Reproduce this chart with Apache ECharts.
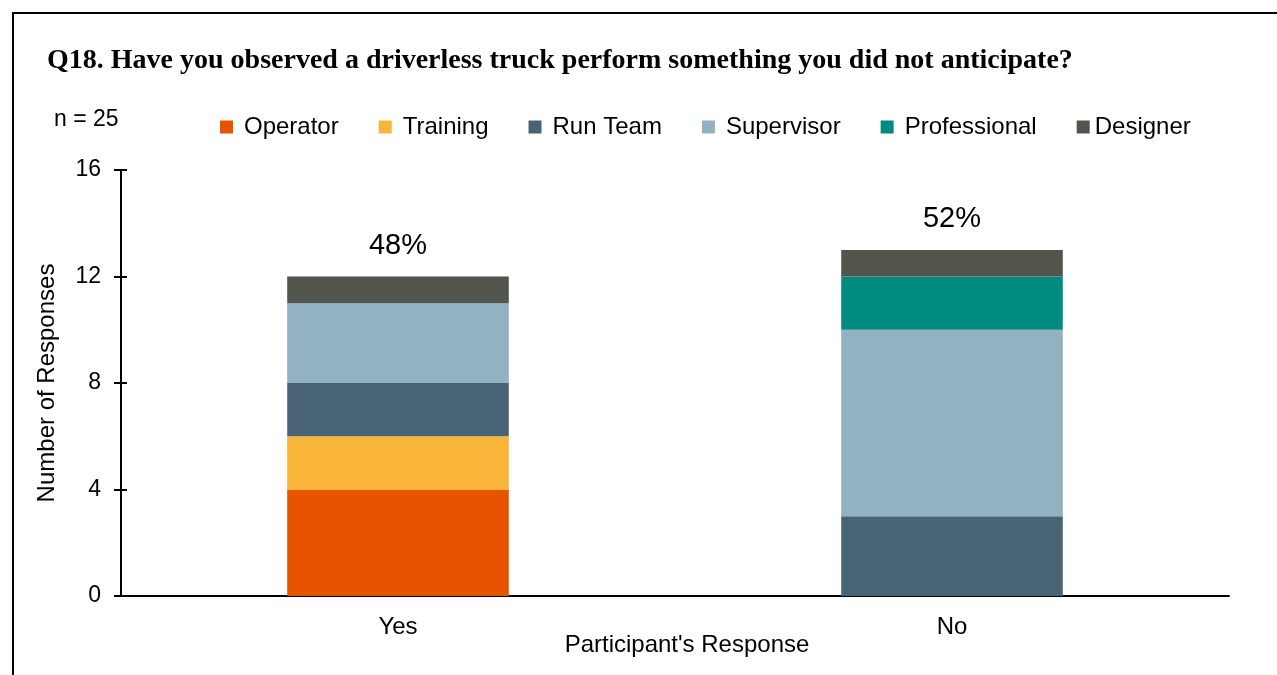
<!DOCTYPE html>
<html>
<head>
<meta charset="utf-8">
<script src="https://cdn.jsdelivr.net/npm/echarts@6/dist/echarts.min.js"></script>
<style>
  html, body { margin: 0; padding: 0; background: #fff; }
  #frame {
    position: absolute; left: 12px; top: 12px; right: -5px; bottom: -5px;
    border-left: 2px solid #000; border-top: 2px solid #000;
  }
  #chart { position: absolute; left: 0; top: 0; width: 1277px; height: 675px; }
</style>
</head>
<body>
<div id="frame"></div>
<div id="chart"></div>
<script>
const categories = ['Yes', 'No']
const operator = [4, 0]
const training = [2, 0]
const runTeam = [2, 3]
const supervisor = [3, 7]
const professional = [0, 2]
const designer = [1, 1]
const percentLabels = ['48%', '52%']
const yTicks = [0, 4, 8, 12, 16]

const chart = echarts.init(document.getElementById('chart'))

const font = 'Liberation Sans, Arial, sans-serif'

function bar(name, data, color, extra) {
  return Object.assign({
    name,
    type: 'bar',
    stack: 'total',
    data,
    barWidth: '40%',
    itemStyle: { color },
    emphasis: { disabled: true },
  }, extra || {})
}

const yMin = yTicks[0]
const yMax = yTicks[yTicks.length - 1]
const yStep = yTicks[1] - yTicks[0]

const option = {
  animation: false,
  textStyle: { fontFamily: font, color: '#000' },
  title: [
    {
      text: 'Q18. Have you observed a driverless truck perform something you did not anticipate?',
      left: 42,
      top: 42,
      textStyle: {
        fontFamily: 'Liberation Serif, Times New Roman, serif',
        fontWeight: 'bold',
        fontSize: 28,
        color: '#000',
      },
    },
    {
      text: 'n = 25',
      left: 49,
      top: 103,
      textStyle: { fontFamily: font, fontWeight: 'normal', fontSize: 23, color: '#000' },
    },
  ],
  legend: {
    top: 110,
    left: 215,
    itemWidth: 13,
    itemHeight: 13,
    itemGap: 40,
    icon: 'rect',
    textStyle: { fontFamily: font, fontSize: 24, color: '#000', padding: [0, 0, 0, 6] },
    data: [
      'Operator', 'Training', 'Run Team', 'Supervisor', 'Professional',
      { name: 'Designer', textStyle: { padding: [0, 0, 0, 0] } },
    ],
  },
  grid: { left: 121, right: 48, top: 170, bottom: 79 },
  xAxis: {
    type: 'category',
    data: categories,
    name: "Participant's Response",
    nameLocation: 'middle',
    nameGap: 37,
    nameMoveOverlap: false,
    nameTextStyle: { fontSize: 24, color: '#000', fontFamily: font, padding: [0, 0, 0, 24] },
    axisLine: { lineStyle: { color: '#000', width: 2 } },
    axisTick: { show: false },
    axisLabel: { fontSize: 24, color: '#000', margin: 19 },
  },
  yAxis: [
    {
      type: 'value',
      min: yMin,
      max: yMax,
      interval: yStep,
      name: 'Number of Responses',
      nameLocation: 'middle',
      nameGap: 62,
      nameTextStyle: { fontSize: 24, color: '#000', fontFamily: font },
      axisLine: { show: true, lineStyle: { color: '#000', width: 2 } },
      axisTick: { show: true, inside: false, length: 7, lineStyle: { color: '#000', width: 2 } },
      axisLabel: { fontSize: 23, color: '#000', margin: 20 },
      splitLine: { show: false },
    },
    {
      // inner half of the crossing tick marks
      type: 'value',
      position: 'left',
      min: yMin,
      max: yMax,
      interval: yStep,
      axisLine: { show: false },
      axisTick: { show: true, inside: true, length: 6, lineStyle: { color: '#000', width: 2 } },
      axisLabel: { show: false },
      splitLine: { show: false },
    },
  ],
  series: [
    bar('Operator', operator, '#E65400'),
    bar('Training', training, '#F9B43A'),
    bar('Run Team', runTeam, '#486374'),
    bar('Supervisor', supervisor, '#92B1C1'),
    bar('Professional', professional, '#008B82'),
    bar('Designer', designer, '#52554C', {
      label: {
        show: true,
        position: 'top',
        distance: 16,
        fontSize: 29,
        color: '#000',
        fontFamily: font,
        formatter: (p) => percentLabels[p.dataIndex],
      },
    }),
  ],
}

chart.setOption(option)
</script>
</body>
</html>
